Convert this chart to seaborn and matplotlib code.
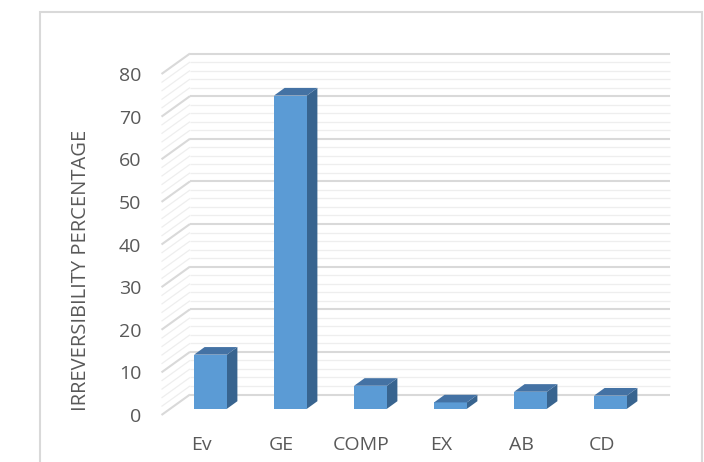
import matplotlib
matplotlib.use("Agg")
import matplotlib.pyplot as plt
import numpy as np
import pandas as pd
import seaborn as sns
from matplotlib.patches import Polygon, Rectangle

# Irreversibility share of each cycle component (%)
categories = ["Ev", "GE", "COMP", "EX", "AB", "CD"]
irreversibility = [12.7, 73.5, 5.4, 1.5, 4.0, 3.1]
y_ticks = [0, 10, 20, 30, 40, 50, 60, 70, 80]
y_label = "IRREVERSIBILITY PERCENTAGE"

FRONT = "#5B9BD5"
TOP = "#4472A4"
SIDE = "#38648F"
TEXT = "#595959"
MAJOR = "#D9D9D9"
MINOR = "#EEEEEE"

sns.set_theme(style="white")
plt.rcParams["font.family"] = ["Open Sans", "DejaVu Sans"]

W, H = 704, 462
fig = plt.figure(figsize=(W / 100, H / 100), dpi=100)
fig.patch.set_facecolor("white")

# front plane of the plot floor/left wall, in pixels
ax_left, ax_bottom, ax_w, ax_h = 161.5, 415, 480, 341
ax = fig.add_axes([ax_left / W, (H - ax_bottom) / H, ax_w / W, ax_h / H])

df = pd.DataFrame({"component": categories, "value": irreversibility})
sns.barplot(data=df, x="component", y="value", color=FRONT, width=0.41,
            saturation=1, ax=ax, zorder=4, linewidth=0)
ax.set_xlim(-0.5, len(categories) - 0.5)
ax.set_ylim(y_ticks[0], y_ticks[-1])

# pixel -> data conversions for the oblique depth direction
px_x = ax_w / len(categories)
px_y = ax_h / (y_ticks[-1] - y_ticks[0])
wall_dx, wall_dy = 28.5 / px_x, 20.5 / px_y
bar_dx0, bar_dy0 = 9.0 / px_x, 6.2 / px_y
bar_ddx, bar_ddy = 10.5 / px_x, 7.6 / px_y

# left side wall diagonals and back wall gridlines
x0, x1 = -0.5, len(categories) - 0.5
for v in np.arange(y_ticks[0], y_ticks[-1] + 0.1, 2):
    major = (v % 10) == 0
    col = MAJOR if major else MINOR
    lw = 1.5 if major else 0.9
    z = 2 if major else 1
    ax.plot([x0, x0 + wall_dx], [v, v + wall_dy], color=col, lw=lw,
            clip_on=False, zorder=z, solid_capstyle="butt")
    ax.plot([x0 + wall_dx, x1 + wall_dx], [v + wall_dy, v + wall_dy],
            color=col, lw=lw, clip_on=False, zorder=z, solid_capstyle="butt")

# extrude each seaborn bar into a 3D column
for patch in list(ax.patches):
    bx = patch.get_x() + bar_dx0
    bw = patch.get_width()
    bh = patch.get_height()
    patch.set_x(bx)
    patch.set_y(bar_dy0)
    patch.set_clip_on(False)
    top = bar_dy0 + bh
    xr = bx + bw
    side = Polygon([(xr, bar_dy0), (xr, top), (xr + bar_ddx, top + bar_ddy),
                    (xr + bar_ddx, bar_dy0 + bar_ddy)], closed=True,
                   facecolor=SIDE, edgecolor="none", zorder=3, clip_on=False)
    cap = Polygon([(bx, top), (xr, top), (xr + bar_ddx, top + bar_ddy),
                   (bx + bar_ddx, top + bar_ddy)], closed=True,
                  facecolor=TOP, edgecolor="none", zorder=5, clip_on=False)
    ax.add_patch(side)
    ax.add_patch(cap)

ax.set_yticks(y_ticks)
ax.set_yticklabels([str(t) for t in y_ticks])
ax.tick_params(axis="y", length=0, pad=14.5, labelsize=14, labelcolor=TEXT)
ax.tick_params(axis="x", length=0, pad=15, labelsize=14, labelcolor=TEXT)
ax.set_xlabel("")
ax.set_ylabel(y_label, fontsize=14.5, color=TEXT, va="center")
ax.yaxis.set_label_coords((81.5 - ax_left) / ax_w, (ax_bottom - 270) / ax_h)
for s in ax.spines.values():
    s.set_visible(False)
ax.set_facecolor("none")

# chart area border
fig.add_artist(Rectangle((40 / W, -0.05), (702 - 40) / W, (H - 12) / H + 0.05,
                         transform=fig.transFigure, facecolor="none",
                         edgecolor=MAJOR, lw=1.5, zorder=0))

fig.savefig("out.png", dpi=100)
